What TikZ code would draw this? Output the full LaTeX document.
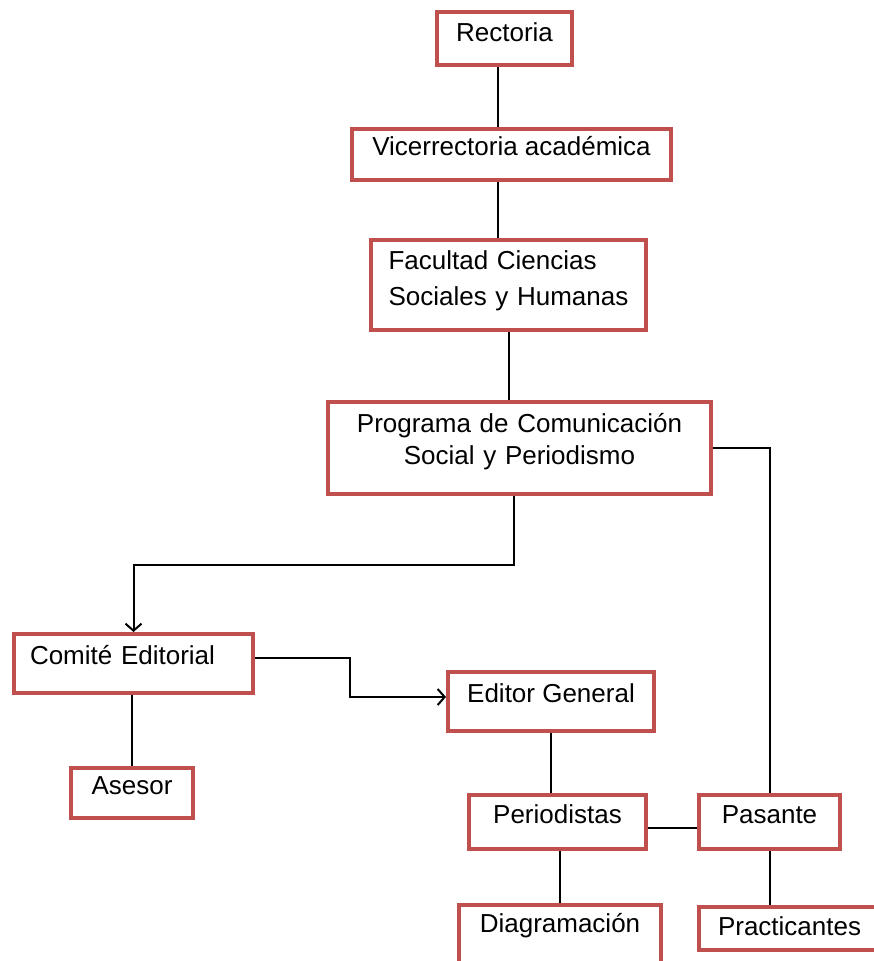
\documentclass[tikz,border=0pt]{standalone}
\usepackage{fontspec}
\setmainfont{Liberation Sans}
\usepackage{xcolor}
\usepackage{tikz}
\usetikzlibrary{arrows.meta,positioning}
\definecolor{rojo}{HTML}{C0504D}

\begin{document}
\begin{tikzpicture}[x=1pt,y=-1pt,
  caja/.style={draw=rojo,line width=4pt,fill=white,anchor=north west,inner sep=0pt,font=\fontsize{26}{36}\selectfont},
  linea/.style={line width=2pt,black},
  flecha/.style={linea,-{Straight Barb[length=7pt,width=16pt]}}]
  \useasboundingbox (0,0) rectangle (874,961);
  \clip (0,0) rectangle (874,961);
  \node (Rectoria) [caja,minimum width=135pt,text height=29pt,text depth=24pt] at (435,10) {Rectoria};
  \node (Vicerrectoria) [caja,minimum width=319pt,text height=26pt,text depth=25pt] at (350,127) {Vicerrectoria académica};
  \node (Facultad) [caja,minimum width=275pt,text width=240pt,align=left,text height=29pt,text depth=61pt] at (369,238) {Facultad Ciencias\\Sociales y Humanas};
  \node (Programa) [caja,minimum width=383pt,text width=360pt,align=center,text height=30pt,text depth=62pt,font=\fontsize{26}{32}\selectfont] at (326,400) {Programa de Comunicación\\Social y Periodismo};
  \node (Comite) [caja,minimum width=239pt,text width=207pt,align=left,text height=30pt,text depth=29pt] at (12,632) {Comité Editorial};
  \node (Asesor) [caja,minimum width=122pt,text height=26pt,text depth=24pt] at (69,766) {Asesor};
  \node (Editor) [caja,minimum width=206pt,text height=30pt,text depth=29pt] at (446,670) {Editor General};
  \node (Periodistas) [caja,minimum width=177pt,text height=28pt,text depth=26pt] at (467,793) {Periodistas};
  \node (Pasante) [caja,minimum width=141pt,text height=28pt,text depth=26pt] at (697,793) {Pasante};
  \node (Diagramacion) [caja,minimum width=202pt,text height=27pt,text depth=43pt] at (457,903) {Diagramación};
  \node (Practicantes) [caja,minimum width=240pt,text width=202pt,align=left,text height=28pt,text depth=15pt] at (697,905) {Practicantes};
  % conectores
  \draw [linea] ([xshift=-6.5pt]Rectoria.south) -- ([xshift=-6.5pt]Rectoria.south |- Vicerrectoria.north);
  \draw [linea] ([xshift=-13.5pt]Vicerrectoria.south) -- ([xshift=-13.5pt]Vicerrectoria.south |- Facultad.north);
  \draw [linea] (Facultad.south) -- (Facultad.south |- Programa.north);
  \draw [flecha] ([xshift=-5.5pt]Programa.south) -- ++(0,69) -| (Comite.north);
  \draw [linea] (Programa.east) -| (Pasante.north);
  \draw [flecha] ([yshift=5.5pt]Comite.east) -- ++(95,0) |- ([yshift=4.5pt]Editor.west);
  \draw [linea] (Asesor.north |- Comite.south) -- (Asesor.north);
  \draw [linea] (Editor.south) -- (Editor.south |- Periodistas.north);
  \draw [linea] ([yshift=-6pt]Periodistas.east) -- ([yshift=-6pt]Periodistas.east -| Pasante.west);
  \draw [linea] ([xshift=2.5pt]Periodistas.south) -- ([xshift=2.5pt]Periodistas.south |- Diagramacion.north);
  \draw [linea] (Pasante.south) -- (Pasante.south |- Practicantes.north);
\end{tikzpicture}
\end{document}
